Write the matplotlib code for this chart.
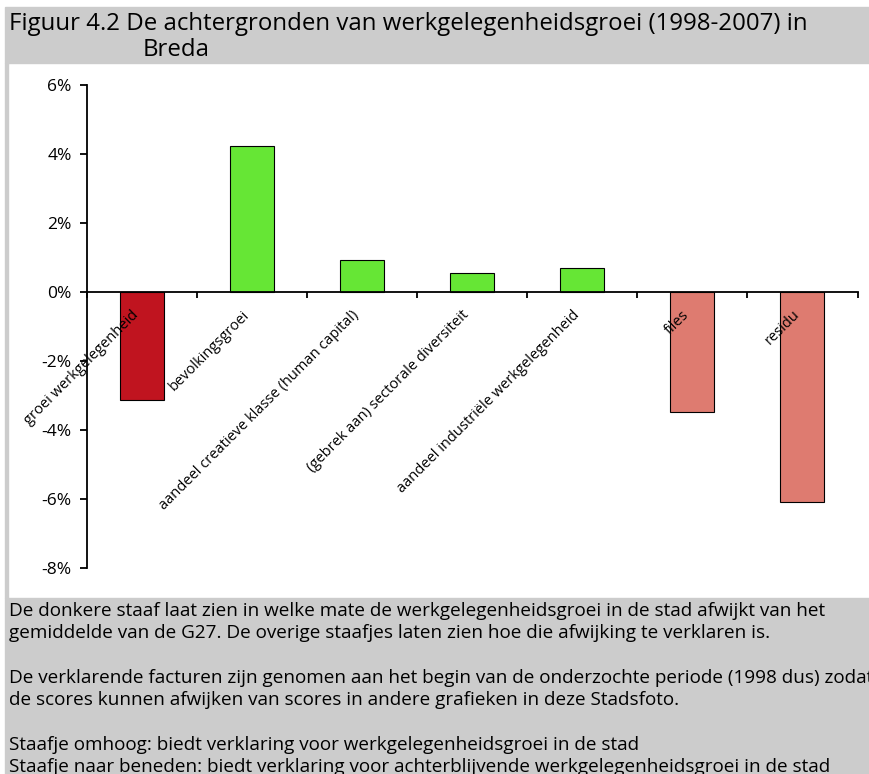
import matplotlib.pyplot as plt
from matplotlib.patches import Rectangle
from matplotlib.ticker import FuncFormatter

plt.rcParams['font.family'] = ['Open Sans', 'DejaVu Sans']

# Data (aandeel in %)
categories = ['groei werkgelegenheid', 'bevolkingsgroei',
              'aandeel creatieve klasse (human capital)',
              '(gebrek aan) sectorale diversiteit',
              'aandeel industriële werkgelegenheid', 'files', 'residu']
values = [-3.13, 4.22, 0.94, 0.54, 0.69, -3.48, -6.08]
colors = ['#C0141F', '#66E635', '#66E635', '#66E635', '#66E635', '#DE7B70', '#DE7B70']

title_lines = ['Figuur 4.2 De achtergronden van werkgelegenheidsgroei (1998-2007) in', 'Breda']
note_lines = [
    'De donkere staaf laat zien in welke mate de werkgelegenheidsgroei in de stad afwijkt van het',
    'gemiddelde van de G27. De overige staafjes laten zien hoe die afwijking te verklaren is.',
    '',
    'De verklarende facturen zijn genomen aan het begin van de onderzochte periode (1998 dus) zodat',
    'de scores kunnen afwijken van scores in andere grafieken in deze Stadsfoto.',
    '',
    'Staafje omhoog: biedt verklaring voor werkgelegenheidsgroei in de stad',
    'Staafje naar beneden: biedt verklaring voor achterblijvende werkgelegenheidsgroei in de stad',
]

W, H = 869, 774
fig = plt.figure(figsize=(W / 100, H / 100), dpi=100)
gray = '#CCCCCC'

def px(x, y):
    return x / W, 1 - y / H

# grijze kaders
fig.patches.append(Rectangle(px(5, 63), (W - 5) / W, 56 / H, transform=fig.transFigure, color=gray, zorder=0))
fig.patches.append(Rectangle(px(5, 598), 3 / W, 535 / H, transform=fig.transFigure, color=gray, zorder=0))
fig.patches.append(Rectangle(px(5, H), (W - 5) / W, (H - 598) / H, transform=fig.transFigure, color=gray, zorder=0))

# titel
fig.text(*px(9, 24), title_lines[0], fontsize=17.3, va='center', ha='left')
fig.text(*px(143, 50), title_lines[1], fontsize=17.3, va='center', ha='left')

# toelichting
for i, line in enumerate(note_lines):
    fig.text(*px(9, 611 + i * 22.3), line, fontsize=13.6, va='center', ha='left')

ax = fig.add_axes([87 / W, 1 - 568 / H, (857.5 - 87) / W, (568 - 85) / H])
ax.patch.set_alpha(0)

x = list(range(len(categories)))
ax.bar(x, values, width=0.4, color=colors, edgecolor='black', linewidth=0.8, zorder=1)

ax.set_xlim(-0.5, len(categories) - 0.5)
ax.set_ylim(-8, 6)
ax.set_yticks(range(-8, 7, 2))
ax.yaxis.set_major_formatter(FuncFormatter(lambda v, p: f'{v:.0f}%'))

ax.spines['top'].set_visible(False)
ax.spines['right'].set_visible(False)
ax.spines['bottom'].set_position(('data', 0))
ax.spines['bottom'].set_linewidth(1.3)
ax.spines['left'].set_linewidth(1.3)

ax.set_xticks(x)
ax.set_xticklabels(categories, rotation=45, ha='right', va='top', fontsize=10.5)
ax.set_xticks([i - 0.5 for i in range(len(categories) + 1)], minor=True)
ax.tick_params(axis='x', which='major', length=0, pad=11)
ax.tick_params(axis='x', which='minor', length=4, width=1.3, direction='out')
ax.tick_params(axis='y', length=5, width=1.3, direction='out', labelsize=12.5, pad=6)

fig.savefig('out.png', dpi=100)
